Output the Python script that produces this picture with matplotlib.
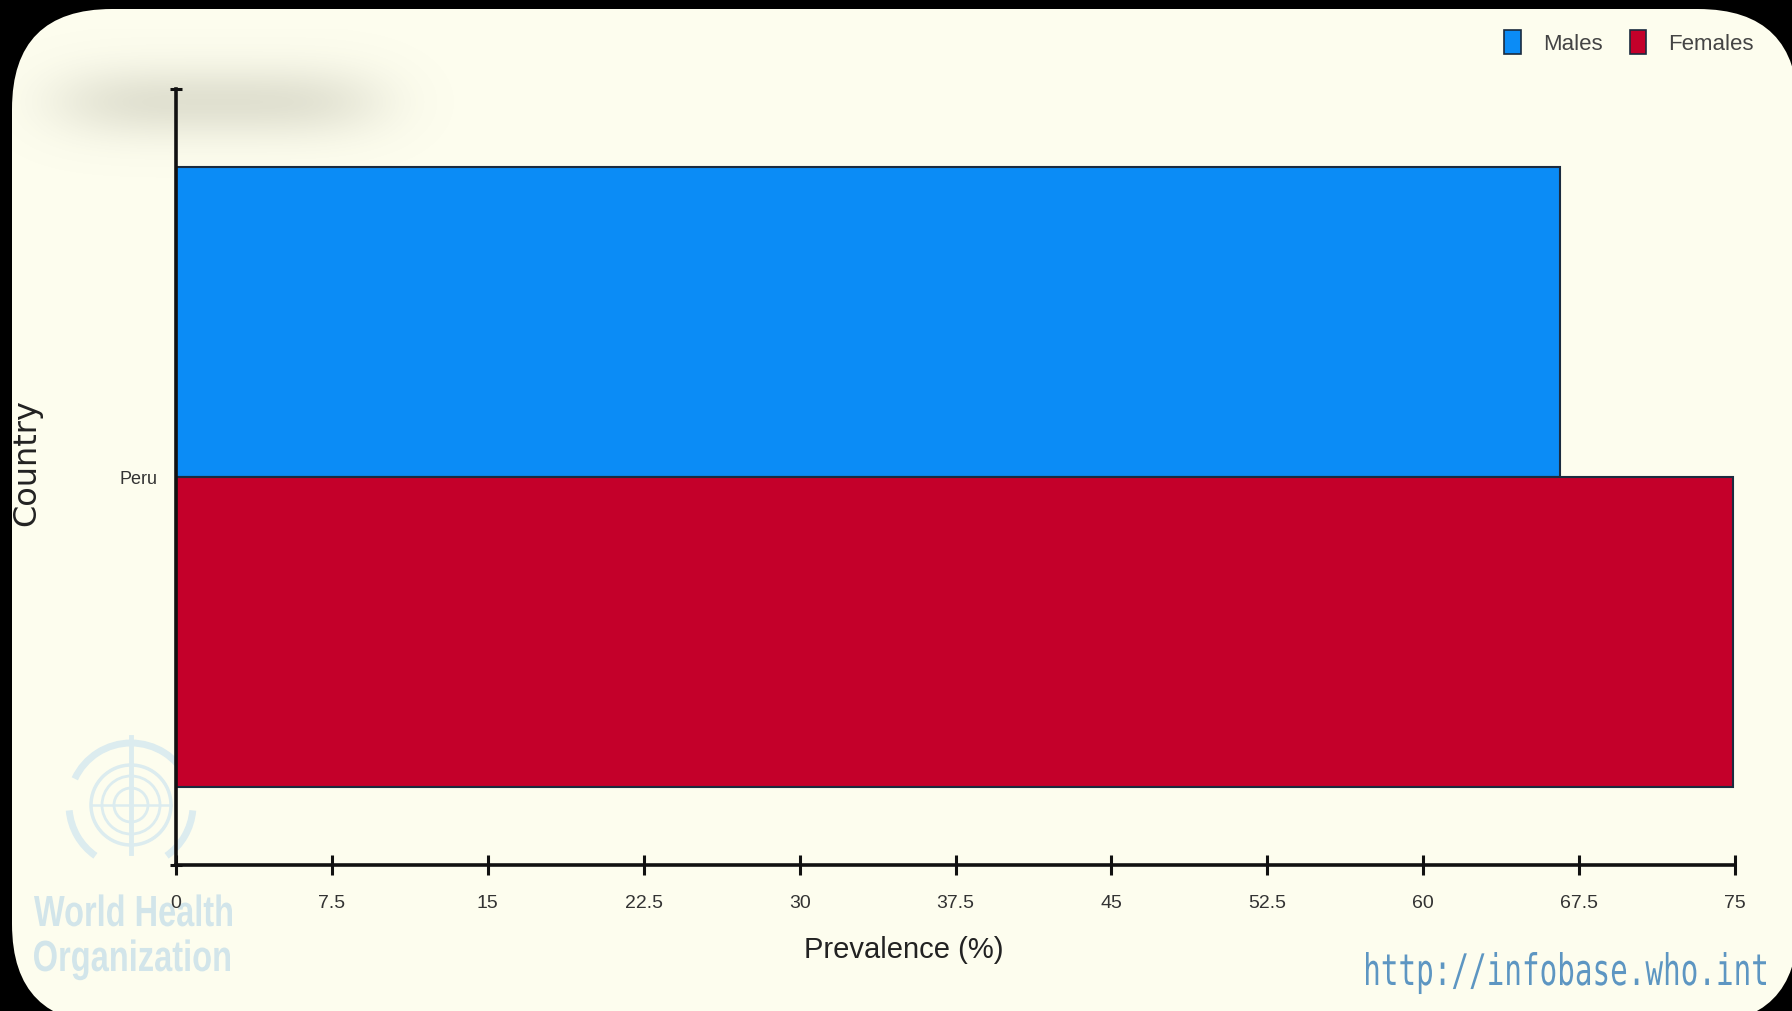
import numpy as np
import matplotlib
matplotlib.use("Agg")
import matplotlib.pyplot as plt
from matplotlib import font_manager
from matplotlib.patches import FancyBboxPatch, Patch, Circle, PathPatch, Arc
from matplotlib.textpath import TextPath
from matplotlib.font_manager import FontProperties
from matplotlib.transforms import Affine2D

# data
countries = ["Peru"]
sexes = ["Males", "Females"]
males = [66.6]
females = [74.9]
x_ticks = [0, 7.5, 15, 22.5, 30, 37.5, 45, 52.5, 60, 67.5, 75]
x_tick_labels = ["0", "7.5", "15", "22.5", "30", "37.5", "45", "52.5", "60", "67.5", "75"]

blue = "#0b8cf6"
red = "#c4002a"
cream = "#fdfdee"
ink = "#333333"

names = {f.name for f in font_manager.fontManager.ttflist}
narrow = "Liberation Sans Narrow" if "Liberation Sans Narrow" in names else "Liberation Sans"

W, H = 1792, 1012
fig = plt.figure(figsize=(W / 100, H / 100), dpi=100, facecolor="black")

# background layer in pixel coordinates (y downwards)
bg = fig.add_axes([0, 0, 1, 1], zorder=0)
bg.set_xlim(0, W)
bg.set_ylim(H, 0)
bg.axis("off")


def squeezed_text(ax, s, x, baseline, width, cap, color, **font):
    # text drawn as a path so it can be narrowed to a given width and cap height
    prop = FontProperties(**font)
    tp = TextPath((0, 0), s, size=1, prop=prop)
    box = tp.get_extents()
    hbox = TextPath((0, 0), "H", size=1, prop=prop).get_extents()
    tr = Affine2D().translate(-box.x0, 0).scale(width / box.width, -cap / hbox.height)
    tr = tr.translate(x, baseline)
    ax.add_patch(PathPatch(tr.transform_path(tp), facecolor=color, edgecolor="none", zorder=2))


panel = FancyBboxPatch((12, 10), 1786, 1015, boxstyle="round,pad=0,rounding_size=100",
                       facecolor=cream, edgecolor="none")
bg.add_patch(panel)

# smudge over the title area
gx, gy = np.meshgrid(np.linspace(0, 480, 240), np.linspace(30, 180, 80))
alpha = 0.30 * np.exp(-0.5 * ((gx - 218) / 138) ** 4) * np.exp(-0.5 * ((gy - 103) / 26) ** 2)
smudge = np.zeros(gx.shape + (4,))
smudge[..., 0] = 0.62
smudge[..., 1] = 0.62
smudge[..., 2] = 0.55
smudge[..., 3] = alpha
im = bg.imshow(smudge, extent=(0, 480, 180, 30), interpolation="bilinear", zorder=2)
im.set_clip_path(panel)
bg.set_xlim(0, W)
bg.set_ylim(H, 0)

# faint WHO emblem
logo = "#dcecef"
cx, cy = 131, 806
for r, lw in [(40, 2.5), (29, 2), (17, 2)]:
    bg.add_patch(Circle((cx, cy), r, fill=False, edgecolor=logo, lw=lw, zorder=2))
for t1, t2 in [(205, 335), (125, 175), (5, 55)]:
    bg.add_patch(Arc((cx, cy), 124, 124, theta1=t1, theta2=t2, edgecolor=logo, lw=5, zorder=2))
bg.plot([cx, cx], [cy - 68, cy + 48], color=logo, lw=3.5, zorder=2)
bg.plot([cx - 40, cx + 40], [cy, cy], color=logo, lw=1.8, zorder=2)
squeezed_text(bg, "World Health", 34, 927, 198, 30, "#d2e5ea", family="Liberation Sans", weight="bold")
squeezed_text(bg, "Organization", 34, 972, 196, 30, "#d2e5ea", family="Liberation Sans", weight="bold")

# site address, stretched tall
prop = FontProperties(family="DejaVu Sans Mono")
url = TextPath((0, 0), "http://infobase.who.int", size=1, prop=prop)
hbox = TextPath((0, 0), "h", size=1, prop=prop).get_extents()
ubox = url.get_extents()
tr = Affine2D().translate(-ubox.x0, 0).scale(400 / ubox.width, -33 / hbox.height).translate(1366, 986)
bg.add_patch(PathPatch(tr.transform_path(url), facecolor="#5d96c2", edgecolor="none", zorder=2))

# chart
ax = fig.add_axes([176 / W, 1 - 866 / H, (1735 - 176) / W, (866 - 90) / H], zorder=1)
ax.set_facecolor("none")
y = np.arange(len(countries))
h = 0.4
ax.barh(y + h / 2, males, height=h, color=blue, edgecolor="#1b2b3f", lw=1.5)
ax.barh(y - h / 2, females, height=h, color=red, edgecolor="#1b2b3f", lw=1.5)

ax.set_xlim(0, 75)
ax.set_ylim(-0.5, 0.5)
for s in ["top", "right"]:
    ax.spines[s].set_visible(False)
for s in ["left", "bottom"]:
    ax.spines[s].set_linewidth(2.6)
    ax.spines[s].set_color("#111111")

ax.set_xticks(x_ticks)
ax.set_xticklabels(x_tick_labels, family=narrow, fontsize=14, color=ink)
ax.tick_params(axis="x", direction="inout", length=14, width=2.2, color="#111111", pad=14)

ax.set_yticks(y)
ax.set_yticklabels(countries, family=narrow, fontsize=13, color=ink)
ax.tick_params(axis="y", length=0, pad=13)
ax.set_yticks([-0.5, 0.5], minor=True)
ax.tick_params(axis="y", which="minor", direction="inout", length=9, width=2.2, color="#111111")

ax.set_xlabel("Prevalence (%)", family=narrow, fontsize=21, color="#222222", va="center")
ax.xaxis.set_label_coords((904 - 176) / 1559, (866 - 950) / 776)
ax.set_ylabel("Country", family="DejaVu Sans", fontsize=23, color="#222222", va="center")
ax.yaxis.set_label_coords((27 - 176) / 1559, (866 - 463) / 776)

handles = [Patch(facecolor=blue, edgecolor="#1b2b3f", lw=1.2),
           Patch(facecolor=red, edgecolor="#1b2b3f", lw=1.2)]
leg = fig.legend(handles, sexes, loc="upper right", bbox_to_anchor=(1774 / W, 1 - 11 / H),
                 ncol=2, frameon=False, handlelength=0.75, handleheight=1.25,
                 handletextpad=1.0, columnspacing=1.2,
                 prop=FontProperties(family=narrow, size=16))
for t in leg.get_texts():
    t.set_color("#444444")

fig.savefig("out.png", dpi=100, facecolor="black")
